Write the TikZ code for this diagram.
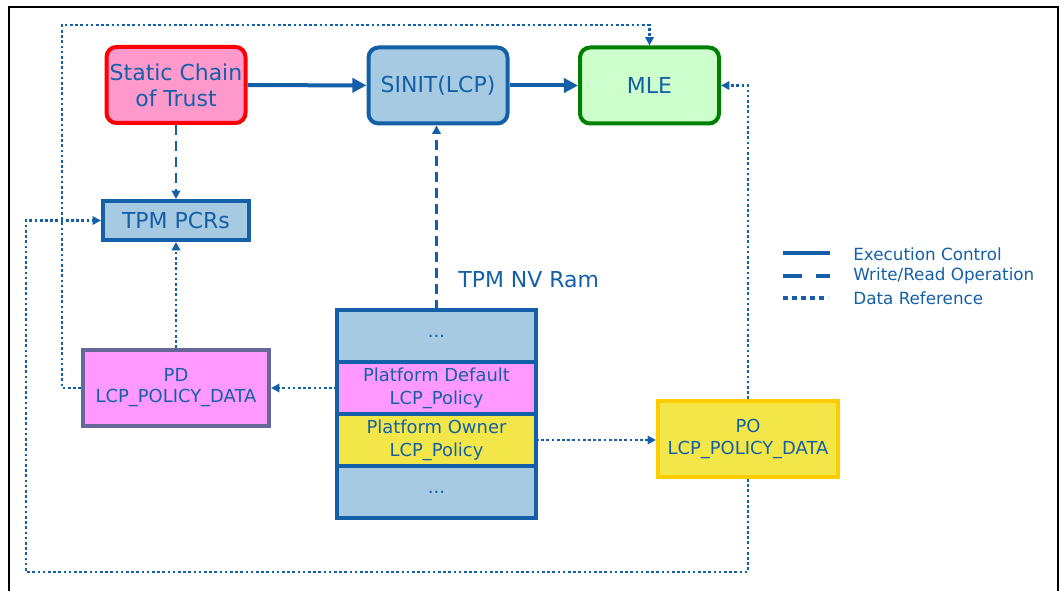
\documentclass[tikz,border=0pt]{standalone}
\usepackage{fontspec}
\setmainfont{DejaVu Sans}
\usetikzlibrary{arrows.meta, positioning}

\definecolor{lcpblue}{RGB}{20,96,168}
\definecolor{cellblue}{RGB}{166,202,226}
\definecolor{crtmpink}{RGB}{255,153,204}
\definecolor{mlegreen}{RGB}{204,255,204}
\definecolor{darkgreen}{RGB}{0,128,0}
\definecolor{pdpink}{RGB}{255,153,255}
\definecolor{pdframe}{RGB}{102,102,153}
\definecolor{poyellow}{RGB}{242,230,72}
\definecolor{poframe}{RGB}{255,204,0}

\newlength\pxl
\setlength\pxl{0.02cm}
\newcommand\lblfont{\fontsize{12.5}{14.8}\selectfont}
\newcommand\cellfont{\fontsize{10.2}{12}\selectfont}
\newcommand\legfont{\fontsize{9.55}{11.5}\selectfont}

\begin{document}
\begin{tikzpicture}[x=0.02cm, y=-0.02cm,
    every node/.style={text=lcpblue, inner sep=0pt},
    mainbox/.style={rectangle, rounded corners=10\pxl, line width=4\pxl,
        minimum width=139\pxl, minimum height=76\pxl, align=center, font=\lblfont},
    plainbox/.style={rectangle, line width=4\pxl, align=center, font=\cellfont},
    nvcell/.style={rectangle, draw=lcpblue, line width=4\pxl, outer sep=0pt,
        minimum width=199\pxl, minimum height=52\pxl, align=center,
        font=\fontsize{10.2}{13}\selectfont},
    exec/.style={draw=lcpblue, line width=4\pxl,
        -{Triangle[length=8pt, width=8pt]}},
    wrop/.style={draw=lcpblue, line width=2.5\pxl, dash pattern=on 10\pxl off 6\pxl,
        -{Triangle[length=4.8pt, width=4.8pt]}},
    dref/.style={draw=lcpblue, line width=2.7\pxl, dash pattern=on 2.7\pxl off 2.5\pxl,
        -{Triangle[length=4.8pt, width=4.8pt]}},
    legtext/.style={anchor=west, font=\legfont}]

    \useasboundingbox (0,0) rectangle (1061,591);
    \draw[line width=2.5\pxl] (9,591) -- (9,7) -- (1058,7) -- (1058,591);

    \node[mainbox, draw=red, fill=crtmpink] (s_crt) at (176,85) {Static Chain\\of Trust};
    \node[mainbox, draw=lcpblue, fill=cellblue] (sinit) at (438,85.5) {SINIT(LCP)};
    \node[mainbox, draw=darkgreen, fill=mlegreen] (mle) at (649.5,85.5) {MLE};

    \node[plainbox, draw=lcpblue, fill=cellblue, font=\lblfont,
          minimum width=146\pxl, minimum height=39\pxl] (pcrs) at (176,220.5) {TPM PCRs};

    \node[plainbox, draw=pdframe, fill=pdpink,
          minimum width=186\pxl, minimum height=76\pxl] (pd_data) at (176,388)
          {PD\\LCP\_POLICY\_DATA};

    \node[plainbox, draw=poframe, fill=poyellow,
          minimum width=180\pxl, minimum height=76\pxl] (po_data) at (748,439)
          {PO\\LCP\_POLICY\_DATA};

    \node[nvcell, fill=cellblue] (nv_1) at (436.5,336) {...};
    \node[nvcell, fill=pdpink] (nv_2) [below=0pt of nv_1] {Platform Default\\LCP\_Policy};
    \node[nvcell, fill=poyellow] (nv_3) [below=0pt of nv_2] {Platform Owner\\LCP\_Policy};
    \node[nvcell, fill=cellblue] (nv_4) [below=0pt of nv_3] {...};

    \node[anchor=west, font=\lblfont] (nvram) at (458,280) {TPM NV Ram};

    \coordinate (top_turn) at (62,25);
    \coordinate (bot_turn) at (26,572);

    \draw[exec] (s_crt) -- (sinit);
    \draw[exec] (sinit) -- (mle);

    \draw[wrop] (s_crt) -- (pcrs);
    \draw[wrop] (nv_1.north) -- (nv_1.north |- sinit.south);

    \draw[dref] (pd_data) -- (pcrs);
    \draw[dref] (nv_2) -- (pd_data);
    \draw[dref] (nv_3.east) -- (po_data.west |- nv_3.east);
    \draw[dref] (pd_data.west) -| (top_turn) -| (mle.north);
    \draw[dref] (po_data.north) |- (mle.east);
    \draw[dref] (po_data.south) |- (bot_turn) |- (pcrs.west);

    \node[legtext] (l_exec) at (853,254) {Execution Control};
    \node[legtext] (l_wrop) at (853,276) {Write/Read Operation};
    \node[legtext] (l_dref) at (853,298) {Data Reference};
    \draw[draw=lcpblue, line width=4\pxl] (783,253) -- (830,253);
    \draw[draw=lcpblue, line width=4\pxl, dash pattern=on 19\pxl off 14\pxl] (783,276) -- (830,276);
    \draw[draw=lcpblue, line width=4\pxl, dash pattern=on 5\pxl off 4\pxl] (783,298) -- (828,298);

\end{tikzpicture}
\end{document}
